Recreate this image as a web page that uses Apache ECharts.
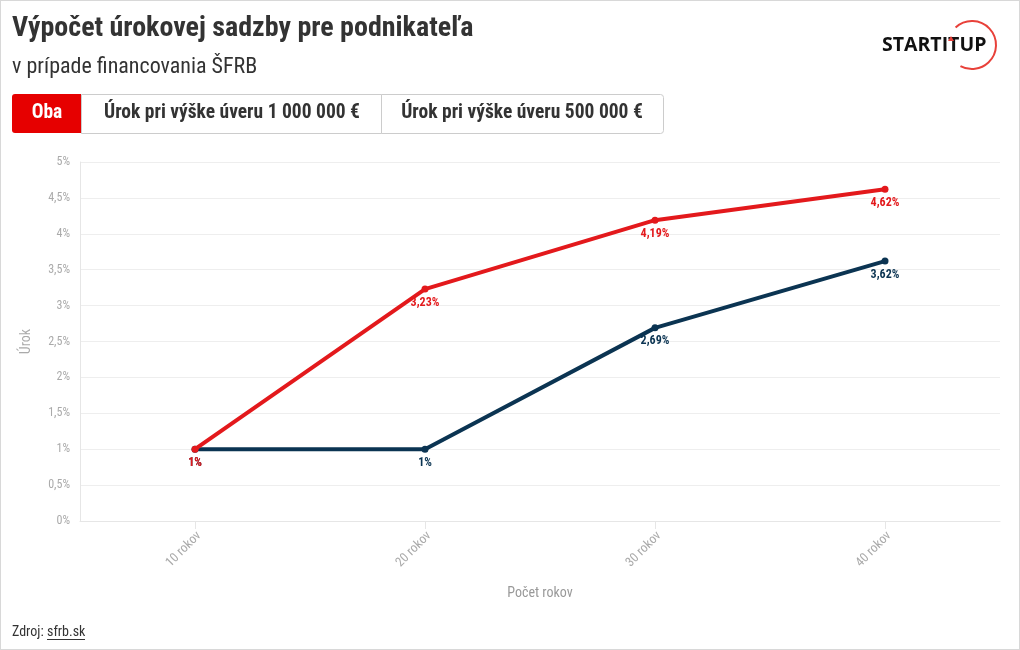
<!DOCTYPE html>
<html>
<head>
<meta charset="utf-8">
<script src="https://cdn.jsdelivr.net/npm/echarts@6/dist/echarts.min.js"></script>
<style>
  html, body { margin: 0; padding: 0; background: #fff; }
  #chart { width: 1018px; height: 648px; border: 1px solid #d8d8d8; }
</style>
</head>
<body>
<div id="chart"></div>
<script>
// kategórie a hodnoty úroku (%)
const years = ["10 rokov", "20 rokov", "30 rokov", "40 rokov"];
const rate1M = [1, 3.23, 4.19, 4.62];
const rate500k = [1, 1, 2.69, 3.62];
const seriesNames = ["Úrok pri výške úveru 1 000 000 €", "Úrok pri výške úveru 500 000 €"];

const FONT = "'Roboto Condensed', 'Liberation Sans Narrow', 'DejaVu Sans Condensed', Roboto, sans-serif";
const RED = "#e3191c";
const NAVY = "#0b3452";

const fmt = (v) => String(v).replace(".", ",") + "%";

const chart = echarts.init(document.getElementById("chart"));

const option = {
  animation: false,
  textStyle: { fontFamily: FONT },
  title: {
    text: "Výpočet úrokovej sadzby pre podnikateľa",
    subtext: "v prípade financovania ŠFRB",
    left: 6,
    top: 9,
    itemGap: 13,
    textStyle: { fontFamily: FONT, fontSize: 28, fontWeight: "bold", color: "#333" },
    subtextStyle: { fontFamily: FONT, fontSize: 22, color: "#333" },
  },
  grid: { left: 79, right: 19, top: 161, bottom: 128, containLabel: false },
  xAxis: {
    type: "category",
    data: years,
    name: "Počet rokov",
    nameLocation: "middle",
    nameGap: 65,
    nameTextStyle: { color: "#999", fontSize: 14, fontFamily: FONT },
    axisLine: { lineStyle: { color: "#e6e6e6" } },
    axisTick: { show: true, alignWithLabel: true, length: 8, lineStyle: { color: "#e6e6e6" } },
    axisLabel: { rotate: 45, color: "#aaa", fontSize: 13, margin: 17, padding: [0, -6, 0, 0], fontFamily: FONT },
  },
  yAxis: {
    type: "value",
    min: 0,
    max: 5,
    interval: 0.5,
    name: "Úrok",
    nameLocation: "middle",
    nameGap: 47,
    nameTextStyle: { color: "#aaa", fontSize: 14, fontFamily: FONT },
    axisLine: { show: true, lineStyle: { color: "#e6e6e6" } },
    axisTick: { show: false },
    splitLine: { lineStyle: { color: "#eeeeee" } },
    axisLabel: { color: "#aaa", fontSize: 12, margin: 10, formatter: fmt, fontFamily: FONT },
  },
  series: [
    {
      name: seriesNames[0],
      type: "line",
      data: rate1M,
      symbol: "circle",
      symbolSize: 7,
      lineStyle: { width: 4, color: RED },
      itemStyle: { color: RED },
      label: {
        show: true,
        position: "bottom",
        distance: 4,
        color: RED,
        fontWeight: "bold",
        fontSize: 12,
        fontFamily: FONT,
        formatter: (p) => fmt(p.value),
      },
      z: 3,
    },
    {
      name: seriesNames[1],
      type: "line",
      data: rate500k,
      symbol: "circle",
      symbolSize: 7,
      lineStyle: { width: 4, color: NAVY },
      itemStyle: { color: NAVY },
      label: {
        show: true,
        position: "bottom",
        distance: 4,
        color: NAVY,
        fontWeight: "bold",
        fontSize: 12,
        fontFamily: FONT,
        formatter: (p) => fmt(p.value),
      },
      z: 2,
    },
  ],
  graphic: [
    // prepínacie tlačidlá
    { type: "rect", left: 11, top: 93, shape: { width: 69, height: 39, r: [3, 0, 0, 3] }, style: { fill: "#e60000" } },
    { type: "rect", left: 80, top: 93, shape: { width: 300, height: 39 }, style: { fill: "#fff", stroke: "#cccccc", lineWidth: 1 } },
    { type: "rect", left: 380, top: 93, shape: { width: 282, height: 39, r: [0, 3, 3, 0] }, style: { fill: "#fff", stroke: "#cccccc", lineWidth: 1 } },
    { type: "text", x: 46, y: 112, style: { text: "Oba", fill: "#fff", font: "bold 19.5px " + FONT, align: "center", verticalAlign: "middle" } },
    { type: "text", x: 231, y: 112, style: { text: seriesNames[0], fill: "#333", font: "bold 19.5px " + FONT, align: "center", verticalAlign: "middle" } },
    { type: "text", x: 521, y: 112, style: { text: seriesNames[1], fill: "#333", font: "bold 19.5px " + FONT, align: "center", verticalAlign: "middle" } },
    // logo
    { type: "arc", shape: { cx: 971, cy: 44, r: 24, startAngle: -Math.PI * 0.74, endAngle: Math.PI * 0.66, clockwise: true }, style: { stroke: "#e8413a", lineWidth: 2, fill: null } },
    { type: "text", x: 881, y: 44, style: { text: "STARTITUP", fill: "#111", font: "bold 19.5px 'Open Sans', Roboto, sans-serif", verticalAlign: "middle" } },
    { type: "polygon", shape: { points: [[947, 40], [950, 35], [953, 40]] }, style: { fill: "#e8413a" } },
    // zdroj
    { type: "text", x: 11, y: 631, style: { text: "Zdroj:", fill: "#333", font: "14px " + FONT, verticalAlign: "middle" } },
    { type: "text", x: 46, y: 631, style: { text: "sfrb.sk", fill: "#333", font: "14px " + FONT, verticalAlign: "middle" } },
    { type: "line", shape: { x1: 46, y1: 638.5, x2: 84, y2: 638.5 }, style: { stroke: "#333", lineWidth: 1 } },
  ],
};

chart.setOption(option);
</script>
</body>
</html>
